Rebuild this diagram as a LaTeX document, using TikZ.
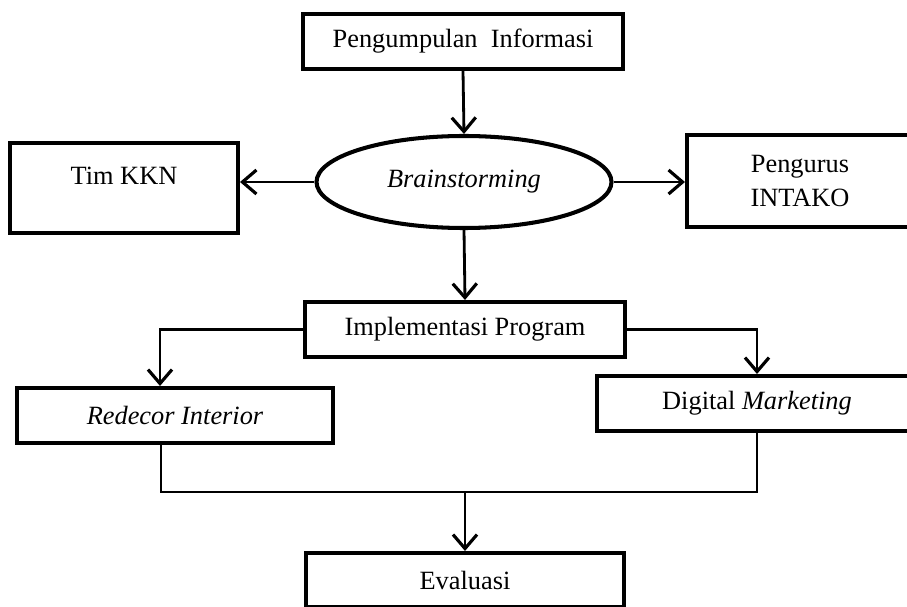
\documentclass[tikz,border=0pt]{standalone}
\usepackage{fontspec}
\setmainfont{Liberation Serif}
\usetikzlibrary{arrows.meta}
\usetikzlibrary{calc}
\usetikzlibrary{positioning}
\usetikzlibrary{shapes.geometric}

\begin{document}
\begin{tikzpicture}[line join=miter,
    box/.style={draw, line width=1.15pt, align=center, inner sep=0pt},
    flow/.style={line width=0.8pt, -{Straight Barb[length=0.14cm, width=0.24cm, line width=0.9pt]}},
    every node/.style={font=\fontsize{7.5}{9.7}\selectfont}]
    % frame
    \useasboundingbox (0,0) rectangle (9.07,6.06);
    \clip (0,0) rectangle (9.07,6.06);

    % nodes
    \node[box, minimum width=3.20cm, minimum height=0.55cm] (info) at (4.63,5.645) {Pengumpulan~~Informasi};
    \node[box, ellipse, minimum width=2.95cm, minimum height=0.92cm] (brain) at (4.64,4.24) {\itshape Brainstorming};
    \node[box, minimum width=2.28cm, minimum height=0.90cm] (tim) at (1.24,4.18) {Tim KKN\\[-3pt]~};
    \node[box, minimum width=2.26cm, minimum height=0.92cm] (pengurus) at (8.00,4.25) {Pengurus\\INTAKO};
    \node[box, minimum width=3.20cm, minimum height=0.55cm] (impl) at (4.65,2.765) {Implementasi Program};
    \node[box, minimum width=3.16cm, minimum height=0.55cm] (redecor) at (1.75,1.905) {\itshape Redecor Interior};
    \node[box, minimum width=3.20cm, minimum height=0.55cm] (digital) at (7.57,2.025) {Digital \textit{Marketing}};
    \node[box, minimum width=3.18cm, minimum height=0.54cm] (eval) at (4.65,0.26) {Evaluasi};

    % joint below the two programs
    \coordinate (join) at (4.63,1.14);

    % connectors
    \draw[flow] (info.south) -- (brain.north);
    \draw[flow] (brain.west) -- (brain.west -| tim.east);
    \draw[flow] (brain.east) -- (brain.east -| pengurus.west);
    \draw[flow] (brain.south) -- (impl.north);
    \draw[flow] (impl.west) -| ([xshift=-0.15cm]redecor.north);
    \draw[flow] (impl.east) -| (digital.north);
    \draw[line width=0.8pt] ([xshift=-0.14cm]redecor.south) |- (digital.south |- join) -- (digital.south);
    \draw[flow] (eval.north |- join) -- (eval.north);

\end{tikzpicture}
\end{document}
